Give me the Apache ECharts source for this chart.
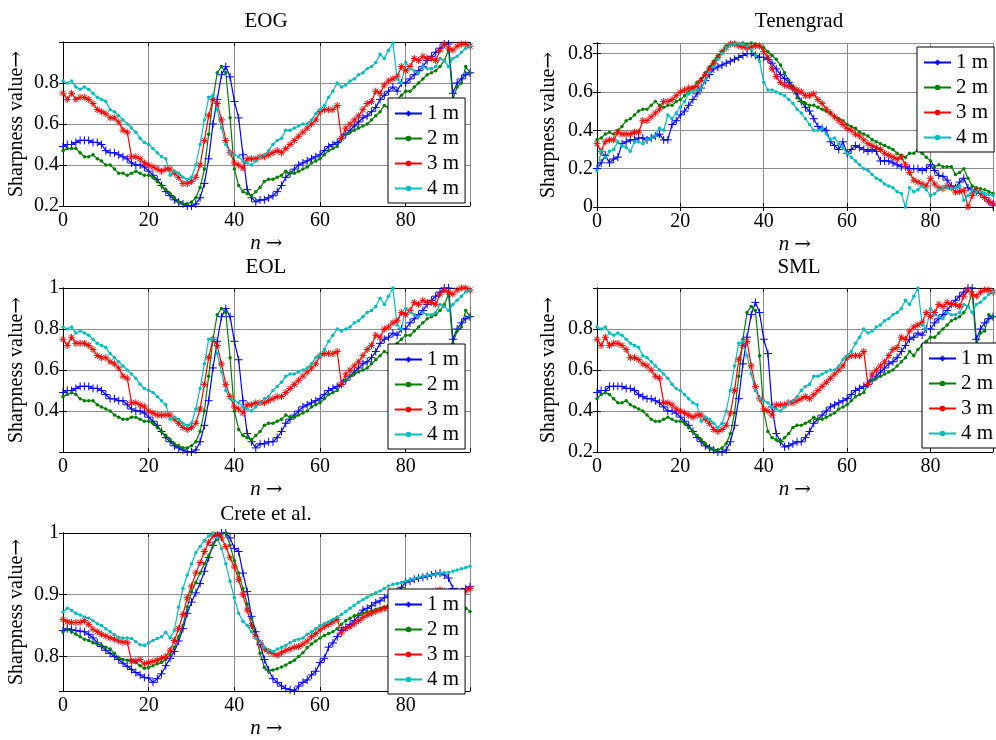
<!DOCTYPE html>
<html>
<head>
<meta charset="UTF-8">
<title>Sharpness curves</title>
<script src="https://cdn.jsdelivr.net/npm/echarts@6.0.0/dist/echarts.min.js"></script>
</head>
<body style="margin:0">
<div id="main" style="width: 996px; height: 740px;"></div>
<script type="text/javascript">
// sharpness values, one entry per frame n = 0..95
var eog1 = [0.49,0.50,0.50,0.51,0.52,0.52,0.52,0.51,0.51,0.50,
  0.47,0.46,0.46,0.45,0.44,0.43,0.41,0.40,0.40,0.39,
  0.37,0.35,0.33,0.30,0.27,0.25,0.23,0.22,0.21,0.20,
  0.20,0.21,0.24,0.31,0.43,0.60,0.72,0.84,0.88,0.83,
  0.71,0.63,0.45,0.28,0.24,0.22,0.23,0.23,0.24,0.25,
  0.27,0.30,0.34,0.36,0.38,0.40,0.41,0.42,0.43,0.44,
  0.45,0.47,0.49,0.50,0.51,0.53,0.55,0.57,0.59,0.61,
  0.63,0.64,0.66,0.68,0.72,0.74,0.76,0.78,0.76,0.80,
  0.80,0.82,0.84,0.86,0.88,0.91,0.93,0.95,0.97,0.99,
  0.99,0.75,0.80,0.82,0.84,0.85];
var eog2 = [0.47,0.48,0.48,0.48,0.46,0.44,0.44,0.45,0.43,0.42,
  0.40,0.40,0.38,0.36,0.36,0.35,0.36,0.37,0.36,0.35,
  0.35,0.34,0.32,0.30,0.28,0.26,0.24,0.22,0.21,0.21,
  0.22,0.24,0.29,0.38,0.55,0.72,0.85,0.88,0.85,0.63,
  0.38,0.30,0.27,0.26,0.25,0.27,0.29,0.32,0.33,0.33,
  0.34,0.35,0.37,0.36,0.36,0.37,0.38,0.39,0.41,0.42,
  0.43,0.45,0.47,0.48,0.49,0.53,0.55,0.56,0.57,0.58,
  0.59,0.60,0.62,0.64,0.66,0.69,0.68,0.70,0.72,0.74,
  0.76,0.76,0.78,0.80,0.82,0.84,0.85,0.86,0.88,0.91,
  0.96,0.72,0.78,0.80,0.88,0.85];
var eog3 = [0.75,0.72,0.75,0.72,0.73,0.73,0.72,0.70,0.67,0.66,
  0.65,0.63,0.63,0.61,0.57,0.56,0.44,0.44,0.43,0.41,
  0.40,0.39,0.38,0.37,0.38,0.38,0.36,0.34,0.31,0.31,
  0.32,0.34,0.40,0.52,0.64,0.72,0.70,0.62,0.52,0.46,
  0.41,0.40,0.385,0.43,0.43,0.43,0.44,0.44,0.45,0.46,
  0.47,0.46,0.48,0.50,0.52,0.54,0.56,0.58,0.60,0.62,
  0.66,0.67,0.67,0.67,0.69,0.53,0.58,0.60,0.62,0.64,
  0.67,0.70,0.71,0.76,0.75,0.79,0.81,0.82,0.83,0.88,
  0.86,0.88,0.92,0.91,0.93,0.92,0.92,0.91,0.96,0.99,
  0.97,0.96,0.98,0.99,0.99,0.98];
var eog4 = [0.81,0.80,0.81,0.78,0.77,0.78,0.77,0.75,0.73,0.72,
  0.71,0.67,0.66,0.64,0.62,0.60,0.58,0.56,0.53,0.51,
  0.50,0.48,0.46,0.44,0.43,0.35,0.37,0.36,0.34,0.33,
  0.34,0.40,0.50,0.62,0.73,0.74,0.67,0.58,0.50,0.46,
  0.45,0.44,0.42,0.41,0.40,0.42,0.44,0.45,0.47,0.50,
  0.52,0.53,0.57,0.57,0.58,0.59,0.60,0.60,0.62,0.65,
  0.67,0.69,0.73,0.76,0.80,0.78,0.79,0.81,0.82,0.84,
  0.85,0.87,0.88,0.90,0.94,0.92,0.96,0.995,0.82,0.80,
  0.90,0.87,0.86,0.85,0.88,0.87,0.87,0.88,0.92,0.91,
  0.88,0.92,0.93,0.95,0.97,0.98];

var ten1 = [0.20,0.23,0.27,0.23,0.25,0.26,0.33,0.34,0.35,0.35,
  0.36,0.36,0.35,0.36,0.37,0.38,0.35,0.35,0.43,0.45,
  0.48,0.50,0.53,0.56,0.59,0.62,0.66,0.69,0.72,0.73,
  0.74,0.75,0.76,0.77,0.78,0.79,0.80,0.80,0.79,0.78,
  0.78,0.77,0.75,0.72,0.69,0.67,0.65,0.62,0.59,0.55,
  0.52,0.50,0.46,0.42,0.41,0.40,0.34,0.32,0.30,0.34,
  0.28,0.30,0.32,0.31,0.30,0.29,0.30,0.29,0.24,0.24,
  0.24,0.23,0.22,0.21,0.21,0.20,0.20,0.20,0.19,0.20,
  0.22,0.19,0.165,0.16,0.14,0.11,0.10,0.13,0.15,0.10,
  0.09,0.08,0.07,0.05,0.03,0.01];
var ten2 = [0.35,0.36,0.38,0.39,0.38,0.40,0.42,0.45,0.46,0.48,
  0.50,0.51,0.51,0.53,0.55,0.53,0.52,0.53,0.53,0.55,
  0.56,0.58,0.60,0.62,0.65,0.67,0.70,0.73,0.76,0.79,
  0.81,0.84,0.85,0.855,0.85,0.855,0.85,0.855,0.85,0.84,
  0.83,0.81,0.79,0.77,0.74,0.70,0.66,0.63,0.57,0.55,
  0.54,0.53,0.53,0.52,0.51,0.50,0.49,0.47,0.46,0.45,
  0.43,0.42,0.41,0.39,0.38,0.37,0.35,0.34,0.33,0.32,
  0.31,0.30,0.28,0.27,0.26,0.28,0.28,0.30,0.28,0.26,
  0.24,0.21,0.22,0.21,0.21,0.21,0.17,0.18,0.20,0.15,
  0.11,0.10,0.095,0.09,0.08,0.07];
var ten3 = [0.33,0.29,0.34,0.35,0.35,0.39,0.38,0.38,0.38,0.39,
  0.39,0.45,0.45,0.47,0.49,0.51,0.55,0.55,0.56,0.58,
  0.60,0.61,0.62,0.62,0.63,0.66,0.69,0.72,0.75,0.78,
  0.81,0.83,0.85,0.85,0.84,0.835,0.83,0.835,0.84,0.84,
  0.81,0.78,0.72,0.68,0.65,0.635,0.63,0.62,0.61,0.60,
  0.58,0.58,0.59,0.56,0.54,0.51,0.49,0.47,0.45,0.43,
  0.41,0.40,0.38,0.37,0.35,0.33,0.32,0.31,0.30,0.28,
  0.27,0.26,0.25,0.26,0.22,0.18,0.14,0.13,0.12,0.11,
  0.15,0.12,0.10,0.096,0.11,0.10,0.078,0.08,0.087,0.00,
  0.06,0.087,0.07,0.05,0.03,0.017];
var ten4 = [0.19,0.29,0.26,0.29,0.30,0.34,0.32,0.31,0.29,0.34,
  0.34,0.33,0.35,0.36,0.37,0.41,0.40,0.48,0.46,0.49,
  0.52,0.55,0.59,0.60,0.61,0.62,0.66,0.70,0.73,0.77,
  0.80,0.83,0.845,0.85,0.85,0.85,0.84,0.82,0.79,0.76,
  0.65,0.61,0.61,0.60,0.59,0.58,0.56,0.54,0.51,0.49,
  0.46,0.43,0.40,0.40,0.41,0.38,0.35,0.36,0.33,0.31,
  0.28,0.26,0.24,0.22,0.20,0.19,0.17,0.15,0.14,0.12,
  0.11,0.10,0.08,0.07,0.00,0.10,0.08,0.09,0.11,0.09,
  0.06,0.07,0.09,0.10,0.10,0.096,0.10,0.11,0.035,0.06,
  0.087,0.08,0.078,0.07,0.065,0.06];

var eol1 = [0.49,0.50,0.50,0.51,0.52,0.52,0.52,0.51,0.51,0.50,
  0.48,0.46,0.46,0.45,0.45,0.43,0.41,0.40,0.40,0.39,
  0.37,0.35,0.33,0.30,0.27,0.25,0.23,0.22,0.21,0.20,
  0.20,0.21,0.25,0.33,0.45,0.61,0.74,0.86,0.90,0.86,
  0.74,0.65,0.45,0.29,0.25,0.22,0.24,0.24,0.25,0.25,
  0.27,0.30,0.34,0.36,0.38,0.40,0.42,0.43,0.44,0.45,
  0.46,0.48,0.50,0.51,0.52,0.53,0.55,0.57,0.59,0.61,
  0.63,0.64,0.66,0.69,0.73,0.75,0.76,0.78,0.77,0.80,
  0.80,0.83,0.85,0.87,0.89,0.92,0.94,0.96,0.98,1.00,
  1.00,0.75,0.80,0.83,0.85,0.86];
var eol2 = [0.47,0.48,0.49,0.48,0.46,0.45,0.45,0.45,0.43,0.42,
  0.41,0.40,0.38,0.37,0.36,0.36,0.37,0.37,0.36,0.35,
  0.35,0.34,0.32,0.30,0.28,0.26,0.24,0.23,0.22,0.22,
  0.23,0.25,0.30,0.40,0.57,0.75,0.87,0.90,0.88,0.66,
  0.40,0.31,0.28,0.27,0.26,0.28,0.30,0.33,0.34,0.34,
  0.35,0.36,0.38,0.37,0.37,0.38,0.39,0.40,0.42,0.43,
  0.44,0.46,0.48,0.49,0.50,0.53,0.55,0.57,0.58,0.59,
  0.60,0.61,0.63,0.65,0.67,0.69,0.68,0.70,0.73,0.75,
  0.77,0.77,0.79,0.81,0.83,0.85,0.86,0.87,0.89,0.92,
  0.97,0.73,0.79,0.81,0.89,0.86];
var eol3 = [0.75,0.72,0.76,0.73,0.73,0.73,0.72,0.70,0.67,0.66,
  0.66,0.64,0.63,0.61,0.57,0.56,0.44,0.44,0.43,0.42,
  0.40,0.39,0.38,0.38,0.38,0.38,0.36,0.34,0.32,0.31,
  0.32,0.34,0.41,0.53,0.66,0.75,0.72,0.63,0.53,0.47,
  0.42,0.41,0.39,0.43,0.43,0.44,0.44,0.44,0.45,0.46,
  0.47,0.47,0.49,0.51,0.53,0.55,0.57,0.59,0.61,0.63,
  0.67,0.68,0.68,0.68,0.69,0.53,0.58,0.60,0.62,0.64,
  0.67,0.70,0.72,0.77,0.76,0.80,0.81,0.83,0.84,0.88,
  0.87,0.89,0.93,0.92,0.94,0.93,0.93,0.92,0.97,0.99,
  0.98,0.97,0.99,1.00,1.00,0.99];
var eol4 = [0.81,0.80,0.81,0.78,0.79,0.78,0.77,0.75,0.73,0.72,
  0.71,0.68,0.66,0.64,0.62,0.60,0.58,0.56,0.53,0.51,
  0.50,0.49,0.47,0.45,0.43,0.36,0.37,0.36,0.34,0.33,
  0.34,0.41,0.51,0.63,0.75,0.75,0.68,0.59,0.50,0.46,
  0.45,0.44,0.42,0.41,0.40,0.42,0.44,0.46,0.47,0.50,
  0.52,0.54,0.57,0.58,0.58,0.59,0.60,0.61,0.63,0.66,
  0.67,0.70,0.74,0.77,0.80,0.79,0.80,0.81,0.83,0.84,
  0.86,0.88,0.89,0.91,0.95,0.92,0.96,1.00,0.82,0.80,
  0.90,0.88,0.87,0.86,0.88,0.87,0.87,0.88,0.92,0.91,
  0.89,0.92,0.94,0.96,0.98,0.99];

var sml1 = [0.49,0.50,0.50,0.52,0.52,0.52,0.52,0.51,0.51,0.50,
  0.48,0.47,0.46,0.46,0.45,0.44,0.42,0.40,0.40,0.39,
  0.37,0.35,0.33,0.30,0.27,0.25,0.23,0.22,0.21,0.20,
  0.20,0.21,0.25,0.33,0.46,0.63,0.76,0.87,0.93,0.88,
  0.75,0.68,0.42,0.29,0.25,0.225,0.23,0.24,0.25,0.25,
  0.27,0.30,0.34,0.36,0.38,0.40,0.42,0.43,0.44,0.45,
  0.46,0.48,0.50,0.51,0.52,0.53,0.55,0.57,0.59,0.61,
  0.63,0.64,0.66,0.69,0.72,0.75,0.76,0.78,0.77,0.80,
  0.80,0.83,0.85,0.87,0.89,0.92,0.94,0.96,0.98,1.00,
  1.00,0.75,0.80,0.83,0.85,0.86];
var sml2 = [0.46,0.48,0.49,0.48,0.46,0.44,0.44,0.45,0.43,0.42,
  0.41,0.40,0.38,0.36,0.35,0.35,0.36,0.37,0.36,0.35,
  0.35,0.34,0.32,0.30,0.28,0.26,0.24,0.22,0.21,0.21,
  0.22,0.24,0.29,0.39,0.57,0.75,0.88,0.91,0.89,0.67,
  0.40,0.30,0.27,0.26,0.25,0.27,0.29,0.32,0.33,0.33,
  0.34,0.35,0.37,0.36,0.36,0.37,0.38,0.39,0.41,0.42,
  0.43,0.45,0.47,0.48,0.49,0.53,0.55,0.56,0.57,0.58,
  0.59,0.60,0.62,0.64,0.66,0.69,0.67,0.70,0.72,0.74,
  0.76,0.76,0.78,0.80,0.82,0.84,0.85,0.86,0.88,0.91,
  0.98,0.72,0.78,0.79,0.87,0.86];
var sml3 = [0.75,0.72,0.76,0.72,0.73,0.73,0.72,0.70,0.66,0.66,
  0.65,0.63,0.62,0.60,0.57,0.56,0.44,0.44,0.43,0.41,
  0.40,0.39,0.38,0.37,0.38,0.38,0.36,0.34,0.31,0.30,
  0.31,0.33,0.39,0.50,0.65,0.72,0.74,0.62,0.52,0.46,
  0.41,0.40,0.38,0.43,0.43,0.43,0.44,0.44,0.45,0.46,
  0.47,0.46,0.48,0.50,0.52,0.54,0.56,0.58,0.60,0.62,
  0.66,0.67,0.67,0.67,0.69,0.53,0.58,0.60,0.62,0.64,
  0.67,0.70,0.71,0.76,0.75,0.79,0.81,0.82,0.83,0.88,
  0.86,0.88,0.92,0.91,0.93,0.92,0.92,0.91,0.96,0.99,
  0.97,0.96,0.98,0.99,0.99,0.98];
var sml4 = [0.81,0.80,0.81,0.78,0.77,0.78,0.77,0.75,0.73,0.72,
  0.71,0.67,0.66,0.64,0.62,0.60,0.58,0.56,0.53,0.51,
  0.50,0.48,0.46,0.44,0.43,0.35,0.37,0.36,0.34,0.32,
  0.34,0.40,0.50,0.62,0.73,0.74,0.67,0.58,0.50,0.46,
  0.45,0.44,0.42,0.41,0.40,0.42,0.44,0.45,0.47,0.50,
  0.52,0.53,0.57,0.57,0.58,0.59,0.60,0.60,0.62,0.65,
  0.67,0.69,0.73,0.76,0.80,0.78,0.79,0.81,0.82,0.84,
  0.85,0.87,0.88,0.90,0.94,0.92,0.96,1.00,0.82,0.80,
  0.90,0.87,0.86,0.85,0.88,0.87,0.87,0.88,0.92,0.91,
  0.88,0.92,0.93,0.95,0.97,0.98];

var crete1 = [0.842,0.845,0.843,0.842,0.841,0.840,0.836,0.830,0.822,0.816,
  0.810,0.805,0.800,0.795,0.789,0.784,0.779,0.774,0.770,0.766,
  0.765,0.758,0.764,0.772,0.785,0.797,0.808,0.825,0.845,0.870,
  0.888,0.903,0.918,0.938,0.960,0.980,0.995,1.000,1.000,0.992,
  0.975,0.970,0.935,0.905,0.865,0.840,0.820,0.795,0.778,0.764,
  0.758,0.752,0.748,0.746,0.744,0.752,0.758,0.762,0.770,0.776,
  0.790,0.797,0.815,0.822,0.832,0.842,0.847,0.852,0.858,0.866,
  0.875,0.878,0.882,0.887,0.890,0.895,0.898,0.900,0.905,0.912,
  0.920,0.922,0.925,0.927,0.928,0.930,0.932,0.934,0.935,0.932,
  0.927,0.910,0.905,0.905,0.910,0.913];
var crete2 = [0.840,0.844,0.840,0.836,0.832,0.828,0.826,0.822,0.820,0.818,
  0.815,0.812,0.805,0.798,0.795,0.794,0.794,0.790,0.785,0.781,
  0.782,0.785,0.788,0.790,0.795,0.803,0.815,0.832,0.850,0.880,
  0.905,0.920,0.935,0.950,0.963,0.980,0.990,0.998,1.000,0.980,
  0.955,0.935,0.910,0.885,0.862,0.835,0.805,0.782,0.776,0.778,
  0.780,0.783,0.786,0.790,0.794,0.800,0.806,0.814,0.820,0.825,
  0.830,0.834,0.837,0.840,0.845,0.852,0.858,0.862,0.866,0.868,
  0.870,0.872,0.874,0.876,0.878,0.880,0.882,0.884,0.886,0.888,
  0.890,0.892,0.894,0.897,0.900,0.903,0.905,0.905,0.904,0.900,
  0.896,0.890,0.886,0.882,0.878,0.873];
var crete3 = [0.860,0.856,0.855,0.855,0.855,0.858,0.852,0.844,0.840,0.836,
  0.833,0.830,0.828,0.825,0.823,0.823,0.792,0.793,0.795,0.788,
  0.790,0.792,0.794,0.797,0.800,0.810,0.826,0.845,0.868,0.895,
  0.914,0.935,0.952,0.970,0.985,0.995,0.998,0.992,0.978,0.960,
  0.945,0.925,0.900,0.875,0.850,0.832,0.822,0.812,0.808,0.805,
  0.802,0.806,0.810,0.812,0.815,0.816,0.820,0.825,0.832,0.837,
  0.843,0.848,0.852,0.856,0.860,0.838,0.845,0.848,0.853,0.858,
  0.863,0.867,0.870,0.873,0.875,0.878,0.880,0.883,0.886,0.888,
  0.890,0.892,0.895,0.897,0.900,0.902,0.904,0.906,0.908,0.905,
  0.900,0.898,0.900,0.903,0.906,0.910];
var crete4 = [0.872,0.878,0.875,0.870,0.867,0.864,0.862,0.858,0.853,0.850,
  0.845,0.840,0.835,0.831,0.830,0.830,0.829,0.824,0.819,0.818,
  0.822,0.826,0.829,0.832,0.839,0.830,0.842,0.880,0.910,0.932,
  0.950,0.968,0.978,0.988,0.995,1.000,0.992,0.975,0.950,0.922,
  0.895,0.870,0.857,0.850,0.840,0.830,0.822,0.815,0.810,0.808,
  0.812,0.815,0.818,0.822,0.826,0.828,0.830,0.836,0.840,0.845,
  0.850,0.853,0.856,0.860,0.864,0.868,0.873,0.878,0.883,0.888,
  0.892,0.896,0.900,0.903,0.906,0.910,0.914,0.917,0.918,0.920,
  0.922,0.924,0.926,0.928,0.930,0.931,0.932,0.933,0.934,0.935,
  0.936,0.938,0.940,0.942,0.944,0.946];

var seriesNames = ['1 m', '2 m', '3 m', '4 m'];
var titles = ['EOG', 'Tenengrad', 'EOL', 'SML', 'Crete et al.'];

var FONT = 'Liberation Serif';
var ARROW_FONT = 'DejaVu Serif';
var colors = ['#0000ff', '#008000', '#ff0000', '#00bfbf'];
var symbols = [
  'path://M0,-5L0,5M-5,0L5,0',
  'circle',
  'path://M0,-5L0,5M-5,0L5,0M-3.6,-3.6L3.6,3.6M-3.6,3.6L3.6,-3.6',
  'circle'
];
var symbolSizes = [8, 3.5, 7, 3.5];

// layout of the five panels
var panels = [
  {data: [eog1, eog2, eog3, eog4], left: 63, top: 42, width: 407, height: 164,
   min: 0.2, max: 1, step: 0.2, hideMin: false, hideMax: true, leg: [388, 98], tx: 266, ty: 11},
  {data: [ten1, ten2, ten3, ten4], left: 597, top: 43, width: 404, height: 164,
   min: 0, max: 0.855, step: 0.2, hideMin: false, hideMax: false, leg: [917, 47], tx: 799, ty: 11},
  {data: [eol1, eol2, eol3, eol4], left: 63, top: 288, width: 407, height: 164,
   min: 0.2, max: 1, step: 0.2, hideMin: true, hideMax: false, leg: [388, 344], tx: 266, ty: 257},
  {data: [sml1, sml2, sml3, sml4], left: 597, top: 288, width: 404, height: 164,
   min: 0.2, max: 1, step: 0.2, hideMin: false, hideMax: true, leg: [922, 343], tx: 799, ty: 257},
  {data: [crete1, crete2, crete3, crete4], left: 63, top: 533, width: 407, height: 164,
   min: 0.744, max: 1, step: 0.1, hideMin: false, hideMax: false, leg: [388, 589], tx: 266, ty: 504}
];

var myChart = echarts.init(document.getElementById('main'));

var option = {
  animation: false,
  backgroundColor: '#fff',
  title: [], grid: [], xAxis: [], yAxis: [], legend: [], series: []
};

function onStep(v, step) {
  var k = v / step;
  return Math.abs(k - Math.round(k)) < 1e-6;
}

panels.forEach(function (p, g) {
  option.title.push({
    text: titles[g], left: p.tx, top: p.ty, textAlign: 'center', padding: 0,
    textStyle: {fontFamily: FONT, fontSize: 21, fontWeight: 'normal', color: '#000'}
  });
  option.grid.push({left: p.left, top: p.top, width: p.width, height: p.height, show: false});

  var tick = {show: true, inside: true, length: 4, lineStyle: {color: '#000', width: 1}};
  var line = {show: true, lineStyle: {color: '#000', width: 1}};
  option.xAxis.push({
    type: 'value', gridIndex: g, min: 0, max: 95, interval: 20, position: 'bottom',
    name: '{i|n} {a|\u2192}', nameLocation: 'middle', nameGap: 27,
    nameTextStyle: {fontFamily: FONT, fontSize: 20, color: '#000',
      rich: {
        i: {fontFamily: FONT, fontSize: 21, fontStyle: 'italic', color: '#000'},
        a: {fontFamily: ARROW_FONT, fontSize: 20, color: '#000'}
      }},
    axisLine: line, axisTick: tick,
    axisLabel: {fontFamily: FONT, fontSize: 20, color: '#000', margin: 5,
      formatter: function (v) { return onStep(v, 20) ? String(v) : ''; }},
    splitLine: {show: true, lineStyle: {color: '#8c8c8c', width: 1}}
  });
  option.xAxis.push({
    type: 'value', gridIndex: g, min: 0, max: 95, interval: 20, position: 'top',
    axisLine: line, axisTick: tick, axisLabel: {show: false}, splitLine: {show: false}
  });

  var yMain = {
    type: 'value', gridIndex: g, min: p.min, max: p.max, position: 'left',
    name: '{t|Sharpness value}{a|\u2192}', nameLocation: 'middle', nameGap: g % 2 ? 38 : 36,
    nameTextStyle: {fontFamily: FONT, fontSize: 20, color: '#000',
      rich: {
        t: {fontFamily: FONT, fontSize: 20, color: '#000'},
        a: {fontFamily: ARROW_FONT, fontSize: 20, color: '#000'}
      }},
    axisLine: line, axisTick: tick,
    axisLabel: {fontFamily: FONT, fontSize: 20, color: '#000', margin: 4,
      showMinLabel: !p.hideMin, showMaxLabel: !p.hideMax,
      formatter: function (v) {
        return onStep(v, p.step) ? String(Math.round(v * 10) / 10) : '';
      }},
    splitLine: {show: true, lineStyle: {color: '#8c8c8c', width: 1}}
  };
  var yMirror = {
    type: 'value', gridIndex: g, min: p.min, max: p.max, position: 'right',
    axisLine: line, axisTick: tick, axisLabel: {show: false}, splitLine: {show: false}
  };
  if (onStep(p.min, p.step)) {
    yMain.interval = p.step;
    yMirror.interval = p.step;
  } else {
    yMain.splitNumber = 3;
    yMirror.splitNumber = 3;
  }
  option.yAxis.push(yMain, yMirror);

  option.legend.push({
    data: seriesNames, orient: 'vertical', left: p.leg[0], top: p.leg[1],
    padding: [5, 6, 4, 6], itemGap: 4, itemWidth: 27, itemHeight: 7,
    backgroundColor: '#fff', borderColor: '#000', borderWidth: 1, borderRadius: 0,
    textStyle: {fontFamily: FONT, fontSize: 21, color: '#000'},
    selectedMode: false
  });

  p.data.forEach(function (vals, s) {
    option.series.push({
      name: seriesNames[s], type: 'line',
      xAxisIndex: 2 * g, yAxisIndex: 2 * g,
      data: vals.map(function (v, i) { return [i, v]; }),
      symbol: symbols[s], symbolSize: symbolSizes[s], showAllSymbol: true,
      lineStyle: {color: colors[s], width: 1.2},
      itemStyle: {color: colors[s], borderColor: colors[s], borderWidth: s % 2 ? 0 : 1},
      emphasis: {disabled: true}
    });
  });
});

myChart.setOption(option);
</script>
</body>
</html>
